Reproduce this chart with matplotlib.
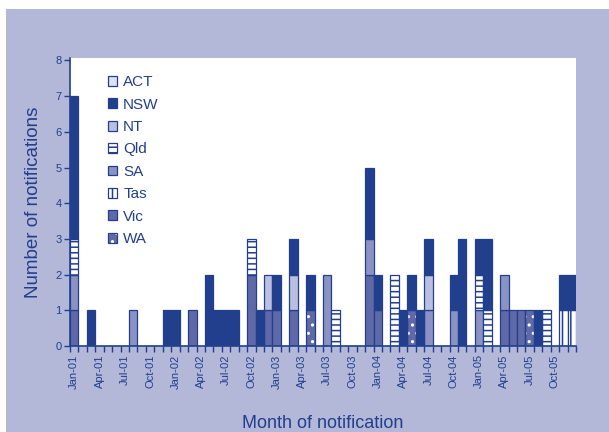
import numpy as np
import matplotlib
matplotlib.use("Agg")
import matplotlib.pyplot as plt
from matplotlib.patches import Patch, Rectangle
from matplotlib.transforms import ScaledTranslation

plt.rcParams['font.family'] = ['Liberation Sans', 'DejaVu Sans']
plt.rcParams['hatch.linewidth'] = 1.1

# month labels, Jan-01 .. Dec-05
years = ['01', '02', '03', '04', '05']
mnames = ['Jan', 'Feb', 'Mar', 'Apr', 'May', 'Jun', 'Jul', 'Aug', 'Sep', 'Oct', 'Nov', 'Dec']
months = [m + '-' + y for y in years for m in mnames]

# notifications per month, by state (one row of 12 per year)
ACT = [0] * 60
NSW = ([4, 0, 1, 0, 0, 0, 0, 0, 0, 0, 0, 1] +
       [1, 0, 0, 0, 2, 1, 1, 1, 0, 0, 1, 0] +
       [1, 0, 1, 0, 1, 0, 0, 0, 0, 0, 0, 2] +
       [1, 0, 0, 1, 1, 1, 1, 0, 0, 1, 3, 0] +
       [1, 2, 0, 0, 0, 0, 0, 1, 0, 0, 1, 1])
NT = ([0] * 12 +
      [0, 0, 0, 0, 0, 0, 0, 0, 0, 0, 0, 1] +
      [0, 0, 1, 0, 0, 0, 0, 0, 0, 0, 0, 0] +
      [0, 0, 0, 0, 0, 0, 1, 0, 0, 0, 0, 0] +
      [0] * 12)
Qld = ([1, 0, 0, 0, 0, 0, 0, 0, 0, 0, 0, 0] +
       [0, 0, 0, 0, 0, 0, 0, 0, 0, 1, 0, 0] +
       [0, 0, 0, 0, 0, 0, 0, 1, 0, 0, 0, 0] +
       [0, 0, 2, 0, 0, 0, 0, 0, 0, 0, 0, 0] +
       [1, 1, 0, 0, 0, 0, 0, 0, 1, 0, 0, 0])
SA = ([1, 0, 0, 0, 0, 0, 0, 1, 0, 0, 0, 0] +
      [0] * 12 +
      [0, 0, 0, 0, 0, 0, 2, 0, 0, 0, 0, 1] +
      [0, 0, 0, 0, 0, 0, 1, 0, 0, 1, 0, 0] +
      [1, 0, 0, 1, 0, 0, 0, 0, 0, 0, 0, 0])
Tas = [0] * 48 + [0, 0, 0, 0, 0, 0, 0, 0, 0, 0, 1, 1]
Vic = ([1, 0, 0, 0, 0, 0, 0, 0, 0, 0, 0, 0] +
       [0, 0, 1, 0, 0, 0, 0, 0, 0, 2, 0, 1] +
       [1, 0, 1, 0, 0, 0, 0, 0, 0, 0, 0, 2] +
       [1, 0, 0, 0, 0, 0, 0, 0, 0, 0, 0, 0] +
       [0, 0, 0, 1, 1, 1, 0, 0, 0, 0, 0, 0])
WA = ([0] * 12 + [0] * 12 +
      [0, 0, 0, 0, 1, 0, 0, 0, 0, 0, 0, 0] +
      [0, 0, 0, 0, 1, 0, 0, 0, 0, 0, 0, 0] +
      [0, 0, 0, 0, 0, 0, 1, 0, 0, 0, 0, 0])

NAVY = '#213f8c'
BG = '#b3b7d8'
styles = {
    'ACT': dict(fc='#dde0f0', hatch=None),
    'NSW': dict(fc=NAVY, hatch=None),
    'NT': dict(fc='#bcc0df', hatch=None),
    'Qld': dict(fc='white', hatch='---'),
    'SA': dict(fc='#8b93c5', hatch=None),
    'Tas': dict(fc='white', hatch='||'),
    'Vic': dict(fc='#5f69a8', hatch=None),
    'WA': dict(fc='#5f69a8', hatch='..'),
}
series = {'ACT': ACT, 'NSW': NSW, 'NT': NT, 'Qld': Qld,
          'SA': SA, 'Tas': Tas, 'Vic': Vic, 'WA': WA}

fig = plt.figure(figsize=(6.09, 4.32), dpi=100)
bg = Rectangle((6 / 609, 0), 1, 1 - 9 / 432, transform=fig.transFigure,
               facecolor=BG, edgecolor='none', zorder=-10)
fig.add_artist(bg)
ax = fig.add_axes([70 / 609, 86 / 432, 506 / 609, 288 / 432])
ax.set_zorder(1)

x = np.arange(len(months)) + 0.5
bottom = np.zeros(len(months))
# stacked bottom to top in reverse legend order
for name in ['WA', 'Vic', 'Tas', 'SA', 'Qld', 'NT', 'NSW', 'ACT']:
    vals = np.array(series[name], dtype=float)
    st = styles[name]
    m = vals > 0
    if m.any():
        if name == 'WA':
            ax.bar(x[m], vals[m], 1.0, bottom=bottom[m], color=st['fc'],
                   edgecolor='white', hatch=st['hatch'], linewidth=0, zorder=2)
            ax.bar(x[m], vals[m], 1.0, bottom=bottom[m], fill=False,
                   edgecolor=NAVY, linewidth=0.9, zorder=3)
        else:
            ax.bar(x[m], vals[m], 1.0, bottom=bottom[m], color=st['fc'],
                   edgecolor=NAVY, hatch=st['hatch'], linewidth=0.9, zorder=2)
    bottom += vals

ax.set_xlim(0, len(months))
ax.set_ylim(0, 8.07)
ax.set_yticks(range(0, 9))
ax.set_xticks(np.arange(0, len(months) + 1), minor=True)
ax.set_xticks(x[::3])
ax.set_xticklabels(months[::3], rotation=90, fontsize=8, color=NAVY)
shift = ScaledTranslation(0.02, 0, fig.dpi_scale_trans)
for lab in ax.get_xticklabels():
    lab.set_transform(lab.get_transform() + shift)
ax.tick_params(axis='x', which='major', length=0, pad=6)
ax.tick_params(axis='x', which='minor', length=4, width=1, color=NAVY, direction='out')
ax.tick_params(axis='y', length=4, width=1, color=NAVY, labelsize=8, labelcolor=NAVY, pad=2)
for s in ['top', 'right']:
    ax.spines[s].set_visible(False)
for s in ['left', 'bottom']:
    ax.spines[s].set_color(NAVY)
    ax.spines[s].set_linewidth(1.2)

ax.set_xlabel('Month of notification', fontsize=13, color=NAVY)
ax.xaxis.set_label_coords(0.5, -0.24)
ax.set_ylabel('Number of notifications', fontsize=13.5, color=NAVY)
ax.yaxis.set_label_coords(-0.055, 0.5)

handles = []
for name in series:
    st = styles[name]
    if name == 'WA':
        handles.append((Patch(facecolor=st['fc'], edgecolor='white', hatch=st['hatch'], linewidth=0),
                        Patch(fill=False, edgecolor=NAVY, linewidth=0.9)))
    else:
        handles.append(Patch(facecolor=st['fc'], edgecolor=NAVY, hatch=st['hatch'], linewidth=0.9))
leg = ax.legend(handles, list(series.keys()), loc='upper left', bbox_to_anchor=(0.075, 0.94),
                frameon=False, fontsize=11, handlelength=0.6, handleheight=0.6,
                handletextpad=0.4, labelspacing=0.55, borderpad=0, borderaxespad=0)
for t in leg.get_texts():
    t.set_color(NAVY)

fig.savefig('out.png', dpi=100)
